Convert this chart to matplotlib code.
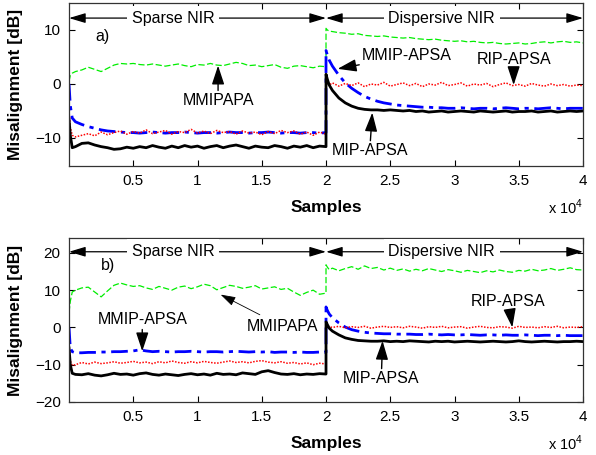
import matplotlib
matplotlib.use('Agg')
import matplotlib.pyplot as plt

plt.rcParams['font.family'] = ['Liberation Sans', 'DejaVu Sans']
plt.rcParams['mathtext.fontset'] = 'custom'
plt.rcParams['mathtext.rm'] = 'Liberation Sans'

# sample positions (first part: sparse NIR, second part: dispersive NIR)
x_sparse = [0, 100, 250] + list(range(500, 20001, 500))
x_disp = [20000, 20100, 20250] + list(range(20500, 40001, 500))

# ---- panel a) ----
a_green_s = [0.5, 1.6, 2.0, 2.3, 2.6, 3.1, 2.7, 2.3, 2.9, 3.5, 3.8, 3.7, 3.8, 3.6, 3.5,
             3.7, 3.5, 3.3, 3.5, 3.7, 3.4, 3.2, 3.6, 3.5, 3.8, 3.5, 3.4, 3.7, 4.0, 3.8,
             3.4, 3.5, 3.2, 3.4, 3.6, 3.1, 2.9, 3.3, 3.4, 3.2, 3.0, 3.3, 3.2]
a_green_d = [10.3, 10.0, 9.8, 9.7, 9.5, 9.4, 9.2, 9.3, 9.0, 8.9, 8.8, 8.9, 8.7, 8.6, 8.5,
             8.6, 8.4, 8.3, 8.2, 8.3, 8.1, 8.0, 7.9, 8.0, 7.8, 7.9, 7.7, 7.6, 7.7, 7.5,
             7.4, 7.5, 7.6, 7.4, 7.5, 7.7, 7.8, 7.6, 7.8, 7.9, 7.7, 7.8, 7.6]
a_blue_s = [0.0, -4.0, -6.3, -7.0, -7.5, -7.9, -8.2, -8.5, -8.7, -8.8, -8.9, -9.0, -9.0,
            -9.1, -9.0, -8.9, -9.0, -9.1, -9.0, -9.0, -8.9, -9.0, -9.1, -9.0, -9.0, -9.1,
            -9.0, -8.9, -9.0, -9.0, -9.1, -9.0, -9.0, -8.9, -9.0, -9.1, -9.0, -9.0, -9.1,
            -9.0, -9.0, -9.1, -9.0]
a_blue_d = [6.2, 5.4, 4.4, 3.3, 1.6, 0.2, -0.8, -1.6, -2.3, -2.8, -3.2, -3.5, -3.7, -3.9,
            -4.0, -4.1, -4.2, -4.3, -4.3, -4.4, -4.4, -4.5, -4.5, -4.4, -4.5, -4.6, -4.5,
            -4.5, -4.6, -4.5, -4.4, -4.5, -4.6, -4.5, -4.5, -4.6, -4.5, -4.4, -4.5, -4.6,
            -4.5, -4.5, -4.5]
a_red_s = [-5.0, -8.0, -9.5, -9.8, -9.5, -9.2, -9.6, -8.9, -9.4, -9.0, -8.7, -9.3, -8.8,
           -9.1, -8.5, -9.2, -8.9, -8.6, -9.3, -8.8, -9.0, -8.4, -9.1, -8.7, -9.2, -8.6,
           -9.0, -8.8, -9.3, -8.7, -9.1, -8.9, -9.4, -8.8, -9.2, -8.6, -9.0, -8.7, -9.3,
           -8.9, -9.5, -8.9, -9.3]
a_red_d = [0.8, 0.3, -0.2, 0.2, -0.4, 0.1, -0.3, 0.2, -0.5, 0.0, -0.2, 0.3, -0.4, -0.1,
           0.2, -0.3, 0.1, -0.5, 0.0, -0.2, 0.3, -0.3, -0.1, 0.2, -0.4, 0.0, -0.2, 0.1,
           -0.5, -0.1, 0.2, -0.3, -0.1, -0.4, 0.1, -0.2, -0.4, 0.0, -0.3, -0.1, -0.4,
           -0.2, -0.3]
a_black_s = [-6.5, -9.5, -11.8, -11.6, -11.0, -10.9, -11.3, -11.6, -11.8, -12.1, -12.0,
             -11.7, -11.9, -11.6, -11.8, -11.4, -11.7, -11.9, -11.5, -11.8, -11.4, -11.7,
             -11.5, -11.9, -11.6, -11.4, -11.8, -11.5, -11.3, -11.6, -11.9, -11.5, -11.7,
             -11.8, -11.4, -11.6, -11.9, -11.5, -11.7, -11.4, -11.8, -11.5, -11.6]
a_black_d = [1.8, 0.9, -0.2, -1.2, -2.6, -3.5, -4.1, -4.5, -4.7, -4.8, -4.8, -4.9, -4.8,
             -4.9, -5.0, -4.9, -5.1, -5.0, -5.2, -5.1, -5.0, -5.2, -5.1, -5.0, -5.1, -5.2,
             -5.0, -5.1, -5.2, -5.1, -5.0, -5.2, -5.1, -5.1, -5.0, -5.2, -5.1, -5.0, -5.2,
             -5.1, -5.0, -5.1, -5.0]

# ---- panel b) ----
b_green_s = [4.0, 7.0, 9.5, 10.0, 10.6, 10.8, 9.5, 8.2, 9.8, 11.3, 11.9, 11.4, 11.0, 11.2,
             10.6, 10.2, 11.0, 10.5, 10.0, 10.8, 11.1, 10.4, 10.9, 11.6, 11.2, 10.1, 10.7,
             11.3, 11.0, 10.5, 10.8, 11.2, 10.3, 10.6, 10.9, 10.2, 10.5, 9.5, 8.6, 9.4,
             10.0, 8.9, 9.2]
b_green_d = [16.8, 16.2, 15.5, 15.9, 15.2, 15.8, 16.3, 15.6, 16.5, 15.8, 16.1, 15.4, 15.9,
             15.3, 15.7, 15.1, 15.6, 15.2, 15.8, 15.4, 15.0, 15.5, 15.2, 14.8, 15.3, 15.0,
             14.7, 15.2, 14.9, 15.4, 15.0, 14.8, 15.3, 15.1, 15.6, 15.2, 15.4, 15.8, 15.3,
             15.6, 16.0, 15.5, 15.4]
b_blue_s = [0.0, -5.5, -6.5, -6.8, -6.8, -6.7, -6.7, -6.6, -6.6, -6.5, -6.5, -6.4, -6.3,
            -6.0, -6.3, -6.5, -6.4, -6.5, -6.6, -6.5, -6.5, -6.4, -6.5, -6.6, -6.5, -6.5,
            -6.6, -6.5, -6.4, -6.5, -6.6, -6.5, -6.6, -6.5, -6.7, -6.6, -6.6, -6.7, -6.6,
            -6.7, -6.7, -6.6, -6.7]
b_blue_d = [5.5, 4.6, 3.6, 2.6, 1.2, 0.1, -0.6, -1.0, -1.3, -1.5, -1.6, -1.7, -1.7, -1.8,
            -1.8, -1.8, -1.9, -1.9, -1.8, -1.9, -2.0, -1.9, -2.0, -2.0, -1.9, -2.0, -2.1,
            -2.0, -2.0, -2.1, -2.0, -2.1, -2.1, -2.0, -2.1, -2.2, -2.1, -2.1, -2.2, -2.1,
            -2.2, -2.2, -2.2]
b_red_s = [-5.0, -9.0, -10.2, -10.0, -9.4, -9.8, -9.3, -9.7, -9.5, -9.2, -9.6, -9.4, -9.1,
           -9.5, -9.3, -9.7, -9.2, -9.5, -9.0, -9.4, -9.6, -9.2, -9.5, -9.1, -9.4, -9.6,
           -9.3, -9.0, -9.4, -9.2, -9.5, -9.1, -8.9, -9.3, -9.5, -9.2, -9.6, -9.4, -9.8,
           -9.5, -10.0, -9.6, -9.8]
b_red_d = [0.8, 0.4, 0.2, 0.0, 0.3, -0.1, 0.2, 0.0, 0.3, -0.2, 0.1, 0.3, 0.0, 0.2, -0.1,
           0.3, 0.1, -0.2, 0.2, 0.0, 0.3, -0.1, 0.1, 0.2, -0.2, 0.1, 0.3, 0.0, -0.1, 0.2,
           0.1, -0.2, 0.3, 0.0, 0.1, -0.1, 0.2, 0.0, 0.3, -0.1, 0.1, 0.0, 0.2]
b_black_s = [-5.5, -10.0, -12.3, -12.6, -12.7, -12.4, -12.8, -13.0, -12.7, -12.3, -12.6,
             -12.5, -12.8, -12.4, -12.2, -12.6, -12.8, -12.5, -12.7, -12.9, -12.6, -12.4,
             -12.7, -12.5, -12.8, -12.3, -12.6, -12.5, -12.7, -12.2, -12.4, -12.6, -11.9,
             -11.6, -12.1, -12.5, -12.6, -12.4, -12.7, -12.5, -12.6, -12.4, -12.5]
b_black_d = [1.5, 0.8, -0.2, -1.0, -2.0, -2.8, -3.2, -3.5, -3.6, -3.7, -3.7, -3.6, -3.8,
             -3.7, -3.8, -3.6, -3.7, -3.8, -3.9, -3.7, -3.8, -3.7, -3.9, -3.8, -3.7, -3.8,
             -3.9, -3.8, -3.7, -3.8, -3.9, -3.8, -3.6, -3.8, -3.9, -3.8, -3.7, -3.8, -3.9,
             -3.8, -3.8, -3.7, -3.8]

x_ticks = [5000, 10000, 15000, 20000, 25000, 30000, 35000, 40000]
x_tick_labels = ['0.5', '1', '1.5', '2', '2.5', '3', '3.5', '4']

x_all = x_sparse + x_disp

fig = plt.figure(figsize=(5.96, 4.55), dpi=100)
ax1 = fig.add_axes([0.1158, 0.635, 0.8624, 0.3585])
ax2 = fig.add_axes([0.1158, 0.1165, 0.8624, 0.3605])

head = dict(arrowstyle='-|>,head_length=1.0,head_width=0.33', color='black', lw=1.0,
            shrinkA=0, shrinkB=0)
dbl = dict(arrowstyle='<|-|>,head_length=1.0,head_width=0.3', color='black', lw=0.9,
           shrinkA=0, shrinkB=0)


def draw_panel(ax, g, b, r, k):
    ax.plot(x_all, g, color='#00ee00', ls=(0, (5, 2)), lw=0.9)
    ax.plot(x_all, b, color='#0000ff', ls=(0, (6, 2, 1.5, 2)), lw=2.0)
    ax.plot(x_all, r, color='#ff0000', ls=(0, (1, 1)), lw=1.1)
    ax.plot(x_all, k, color='black', ls='-', lw=2.0)
    ax.set_xlim(0, 40000)
    ax.set_xticks(x_ticks)
    ax.set_xticklabels(x_tick_labels)
    ax.tick_params(direction='in', top=True, right=True, length=4, labelsize=11, pad=6)
    for s in ax.spines.values():
        s.set_linewidth(0.9)
        s.set_color('#333333')
    ax.set_xlabel('Samples', fontsize=12.5, fontweight='bold')
    ax.set_ylabel('Misalignment [dB]', fontsize=12.5, fontweight='bold')
    ax.xaxis.set_label_coords(0.5, -0.21)
    ax.yaxis.set_label_coords(-0.09, 0.5)
    ax.text(1.0, -0.25, r'x 10$^{\mathregular{4}}$', transform=ax.transAxes,
            ha='right', va='center', fontsize=10.5)


def region_arrows(ax, y):
    ax.annotate('', xy=(0, y), xytext=(20000, y), arrowprops=dbl)
    ax.annotate('', xy=(20000, y), xytext=(40000, y), arrowprops=dbl)
    bb = dict(facecolor='white', edgecolor='none', pad=3.5)
    ax.text(8100, y, 'Sparse NIR', ha='center', va='center', fontsize=11.5, bbox=bb, zorder=5)
    ax.text(29000, y, 'Dispersive NIR', ha='center', va='center', fontsize=11.5, bbox=bb,
            zorder=5)


# panel a
draw_panel(ax1, a_green_s + a_green_d, a_blue_s + a_blue_d, a_red_s + a_red_d,
           a_black_s + a_black_d)
ax1.set_ylim(-15.2, 15)
ax1.set_yticks([-10, 0, 10])
region_arrows(ax1, 12.2)
ax1.text(2600, 8.7, 'a)', ha='center', va='center', fontsize=11.5)
ax1.annotate('MMIPAPA', xy=(11600, 3.4), xytext=(11600, -3.1), ha='center', va='center',
             fontsize=11.5, arrowprops=head)
ax1.annotate('MMIP-APSA', xy=(20900, 2.8), xytext=(26300, 5.2), ha='center', va='center',
             fontsize=11.5, arrowprops=head)
ax1.annotate('RIP-APSA', xy=(34600, -0.2), xytext=(34600, 4.6), ha='center', va='center',
             fontsize=11.5, arrowprops=head)
ax1.annotate('MIP-APSA', xy=(23600, -5.3), xytext=(23400, -12.4), ha='center', va='center',
             fontsize=11.5, arrowprops=head)

# panel b
draw_panel(ax2, b_green_s + b_green_d, b_blue_s + b_blue_d, b_red_s + b_red_d,
           b_black_s + b_black_d)
ax2.set_ylim(-20, 24)
ax2.set_yticks([-20, -10, 0, 10, 20])
region_arrows(ax2, 20.3)
ax2.text(3000, 16.5, 'b)', ha='center', va='center', fontsize=11.5)
ax2.annotate('MMIP-APSA', xy=(5700, -6.4), xytext=(5700, 2.2), ha='center', va='center',
             fontsize=11.5, arrowprops=head)
ax2.annotate('MMIPAPA', xy=(11800, 8.8), xytext=(16600, 0.3), ha='center', va='center',
             fontsize=11.5,
             arrowprops=dict(arrowstyle='-|>,head_length=0.8,head_width=0.25',
                             color='black', lw=0.6, shrinkA=2, shrinkB=0))
ax2.annotate('RIP-APSA', xy=(34500, 0.0), xytext=(34200, 7.0), ha='center', va='center',
             fontsize=11.5, arrowprops=head)
ax2.annotate('MIP-APSA', xy=(24400, -3.6), xytext=(24300, -13.8), ha='center', va='center',
             fontsize=11.5, arrowprops=head)

plt.savefig('out.png', dpi=100)
plt.close()
